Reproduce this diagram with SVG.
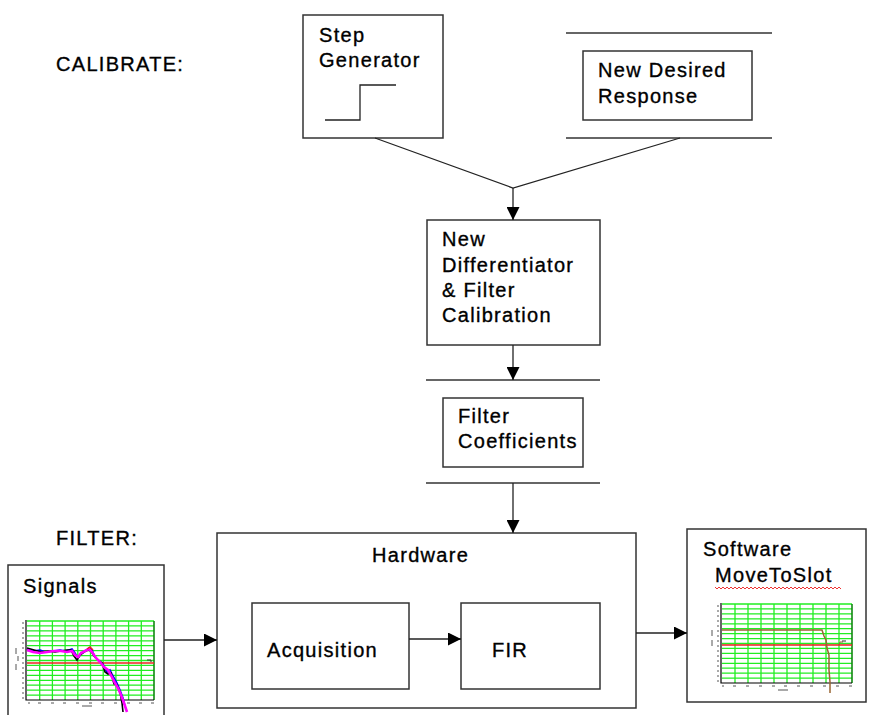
<svg xmlns="http://www.w3.org/2000/svg" width="872" height="715" viewBox="0 0 872 715">
  <style>
    .box { fill: #ffffff; stroke: #333333; stroke-width: 1.5; }
    .rule { stroke: #333333; stroke-width: 1.5; fill: none; }
    .conn { stroke: #222222; stroke-width: 1.3; fill: none; }
    .lbl { font-family: "Liberation Sans", Arial, sans-serif; font-size: 20px; letter-spacing: 1.3px; fill: #000000; stroke: #000000; stroke-width: 0.35px; }
    .grid { stroke: #22ee22; stroke-width: 1.3; fill: none; }
    .axis { stroke: #000000; stroke-width: 1.2; fill: none; }
    .tick { stroke: #555555; stroke-width: 1; fill: none; }
  </style>
  <defs>
    <marker id="arrow" markerUnits="userSpaceOnUse" markerWidth="14" markerHeight="13" refX="13" refY="6.5" orient="auto">
      <path d="M0,0 L13,6.5 L0,13 Z" fill="#000000"/>
    </marker>
  </defs>
  <rect width="872" height="715" fill="#ffffff"/>

  <!-- section headings -->
  <text class="lbl" x="56" y="71">CALIBRATE:</text>
  <text class="lbl" x="56" y="545">FILTER:</text>

  <!-- step generator -->
  <g id="step-generator">
    <rect class="box" x="303" y="15" width="140" height="123"/>
    <text class="lbl" x="319" y="42">Step</text>
    <text class="lbl" x="319" y="67">Generator</text>
    <path class="conn" d="M325,120 H360 V85 H396"/>
  </g>

  <!-- desired response store -->
  <g id="desired-response">
    <line class="rule" x1="566" y1="33" x2="772" y2="33"/>
    <line class="rule" x1="566" y1="138" x2="772" y2="138"/>
    <rect class="box" x="583" y="51" width="169" height="69"/>
    <text class="lbl" x="598" y="77">New Desired</text>
    <text class="lbl" x="598" y="103">Response</text>
  </g>

  <!-- calibration block -->
  <g id="calibration">
    <rect class="box" x="427" y="220" width="173" height="125"/>
    <text class="lbl" x="442" y="246">New</text>
    <text class="lbl" x="442" y="272">Differentiator</text>
    <text class="lbl" x="442" y="297">&amp; Filter</text>
    <text class="lbl" x="442" y="322">Calibration</text>
  </g>

  <!-- coefficient store -->
  <g id="filter-coefficients">
    <line class="rule" x1="426" y1="380" x2="600" y2="380"/>
    <line class="rule" x1="426" y1="483" x2="600" y2="483"/>
    <rect class="box" x="443" y="398" width="140" height="69"/>
    <text class="lbl" x="458" y="423">Filter</text>
    <text class="lbl" x="458" y="448">Coefficients</text>
  </g>

  <!-- input signals with spectrum plot -->
  <g id="signals">
    <rect class="box" x="8" y="565" width="156" height="152"/>
    <text class="lbl" x="23" y="593">Signals</text>
    <path class="grid" d="M27,621H154 M27,625.9H154 M27,630.9H154 M27,635.8H154 M27,640.8H154 M27,645.7H154 M27,650.6H154 M27,655.6H154 M27,660.5H154 M27,665.4H154 M27,670.4H154 M27,675.3H154 M27,680.3H154 M27,685.2H154 M27,690.1H154 M27,695.1H154"/>
    <path class="grid" d="M39.7,621V700 M52.4,621V700 M65.1,621V700 M77.8,621V700 M90.5,621V700 M103.2,621V700 M115.9,621V700 M128.6,621V700 M141.3,621V700"/>
    <path d="M154,621V700" stroke="#118811" stroke-width="1.6"/>
    <path class="axis" d="M26,620V700H154"/>
    <path class="tick" d="M22,623h2 M22,628h2 M22,633h2 M22,638h2 M22,643h2 M22,648h2 M22,653h2 M22,658h2 M22,663h2 M22,668h2 M22,673h2 M22,678h2 M22,683h2 M22,688h2 M22,693h2 M22,698h2 M16,648v6 M18,656v5 M16,664v6"/>
    <path class="tick" d="M28,703h2 M38,703h3 M51,703h3 M63,703h3 M76,703h3 M89,703h3 M101,703h3 M114,703h3 M127,703h3 M139,703h3 M151,703h3 M82,706h10"/>
    <line x1="27" y1="663" x2="154" y2="663" stroke="#ee2222" stroke-width="1.5"/>
    <path d="M27,649 L33,651 L40,650 L46,652 L53,651 L60,650 L66,651 L72,649 L75,653 L78,658 L81,654 L85,651 L89,648 L92,650 L95,657 L99,661 L103,664 L107,672 L110,670 L113,676 L117,683 L120,690 L123,698 L125,706" fill="none" stroke="#0000ff" stroke-width="1.6"/>
    <path d="M27,648 L34,650 L41,652 L48,651 L55,652 L61,651 L67,650 L71,650 L74,656 L77,660 L80,655 L84,652 L88,650 L91,651 L94,656 L98,660 L102,663 L105,672 L108,674 L111,673 L114,684 L117,685 L120,692 L122,703 L123,712" fill="none" stroke="#000000" stroke-width="1.6"/>
    <path d="M27,650 L33,652 L40,653 L47,652 L54,651 L61,651 L67,652 L72,651 L75,655 L78,657 L81,653 L85,651 L89,649 L92,652 L96,658 L100,662 L104,667 L108,670 L112,677 L115,683 L118,688 L121,695 L124,703 L127,712" fill="none" stroke="#ff00ff" stroke-width="2.6"/>
    <path d="M87,649 L90,647 L93,650" fill="none" stroke="#ee2222" stroke-width="1.5"/>
    <path d="M147,660 h4 v2" fill="none" stroke="#333333" stroke-width="1"/>
  </g>

  <!-- hardware block -->
  <g id="hardware">
    <rect class="box" x="217" y="533" width="419" height="175"/>
    <text class="lbl" x="372" y="562">Hardware</text>
  </g>
  <g id="acquisition">
    <rect class="box" x="252" y="603" width="157" height="86"/>
    <text class="lbl" x="267" y="657">Acquisition</text>
  </g>
  <g id="fir">
    <rect class="box" x="461" y="603" width="139" height="86"/>
    <text class="lbl" x="492" y="657">FIR</text>
  </g>

  <!-- software output with response plot -->
  <g id="software">
    <rect class="box" x="687" y="529" width="179" height="173"/>
    <text class="lbl" x="703" y="556">Software</text>
    <text class="lbl" x="715" y="582">MoveToSlot</text>
    <path d="M715,587 l2,2 l2,-2 l2,2 l2,-2 l2,2 l2,-2 l2,2 l2,-2 l2,2 l2,-2 l2,2 l2,-2 l2,2 l2,-2 l2,2 l2,-2 l2,2 l2,-2 l2,2 l2,-2 l2,2 l2,-2 l2,2 l2,-2 l2,2 l2,-2 l2,2 l2,-2 l2,2 l2,-2 l2,2 l2,-2 l2,2 l2,-2 l2,2 l2,-2 l2,2 l2,-2 l2,2 l2,-2 l2,2 l2,-2 l2,2 l2,-2 l2,2 l2,-2 l2,2 l2,-2 l2,2 l2,-2 l2,2 l2,-2 l2,2 l2,-2 l2,2 l2,-2 l2,2 l2,-2 l2,2 l2,-2 l2,2 l2,-2 l2,2" fill="none" stroke="#ee3333" stroke-width="1"/>
    <path class="grid" d="M722,604H852 M722,608.9H852 M722,613.9H852 M722,618.8H852 M722,623.8H852 M722,628.7H852 M722,633.6H852 M722,638.6H852 M722,643.5H852 M722,648.4H852 M722,653.4H852 M722,658.3H852 M722,663.3H852 M722,668.2H852 M722,673.1H852 M722,678.1H852"/>
    <path class="grid" d="M735,604V683 M748,604V683 M761,604V683 M774,604V683 M787,604V683 M800,604V683 M813,604V683 M826,604V683 M839,604V683"/>
    <path d="M852,604V683" stroke="#118811" stroke-width="1.6"/>
    <path class="axis" d="M721,603V683H852"/>
    <path class="tick" d="M717,606h2 M717,611h2 M717,616h2 M717,621h2 M717,626h2 M717,631h2 M717,636h2 M717,641h2 M717,646h2 M717,651h2 M717,656h2 M717,661h2 M717,666h2 M717,671h2 M717,676h2 M717,681h2 M712,630v6 M712,640v6"/>
    <path class="tick" d="M722,686h2 M733,686h3 M746,686h3 M759,686h3 M772,686h3 M784,686h3 M797,686h3 M810,686h3 M823,686h3 M836,686h3 M849,686h3 M778,690h10"/>
    <line x1="722" y1="645" x2="852" y2="645" stroke="#ee2222" stroke-width="1.6"/>
    <path d="M722,630 H822 L824,636 L826,640 L827,648 L829,655 L829,670 L830,682 L830,693" fill="none" stroke="#996633" stroke-width="1.5"/>
    <path d="M839,645 L840,642 H843" fill="none" stroke="#996633" stroke-width="1"/>
    <path d="M842,641 h4" fill="none" stroke="#333333" stroke-width="1"/>
  </g>

  <!-- connectors -->
  <g id="connectors">
    <path class="conn" d="M375,138 L513,188 L680,138"/>
    <line class="conn" x1="513" y1="188" x2="513" y2="220" marker-end="url(#arrow)"/>
    <line class="conn" x1="513" y1="345" x2="513" y2="380" marker-end="url(#arrow)"/>
    <line class="conn" x1="513" y1="483" x2="513" y2="533" marker-end="url(#arrow)"/>
    <line class="conn" x1="164" y1="640" x2="217" y2="640" marker-end="url(#arrow)"/>
    <line class="conn" x1="409" y1="639" x2="461" y2="639" marker-end="url(#arrow)"/>
    <line class="conn" x1="636" y1="633" x2="687" y2="633" marker-end="url(#arrow)"/>
  </g>
</svg>
